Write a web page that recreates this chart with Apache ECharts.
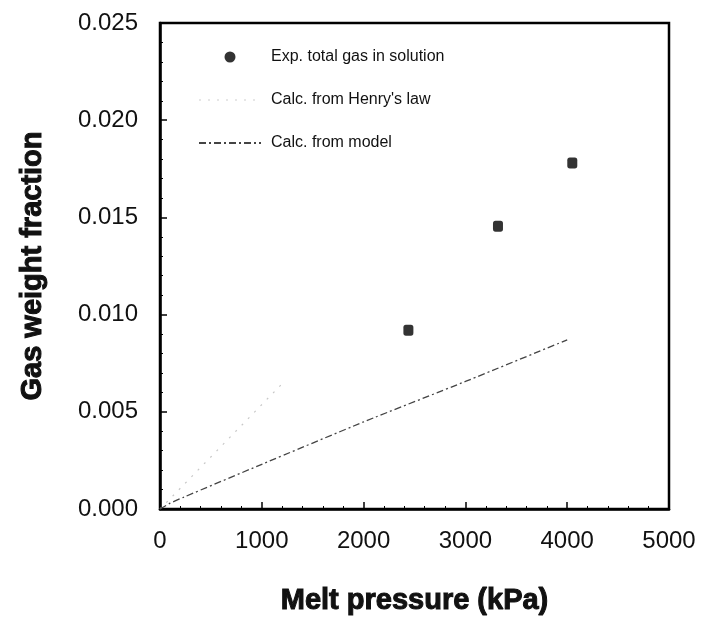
<!DOCTYPE html>
<html>
<head>
<meta charset="utf-8">
<script src="https://cdn.jsdelivr.net/npm/echarts@6/dist/echarts.min.js"></script>
<style>
  html, body { margin: 0; padding: 0; background: #fff; }
  #chart { width: 704px; height: 628px; }
</style>
</head>
<body>
<div id="chart"></div>
<script>
// measured points (kPa, weight fraction)
const expPressure = [2440, 3320, 4050];
const expGas = [0.0092, 0.01455, 0.0178];

// Henry's law line (only visible near the origin)
const henryPressure = [0, 150, 1210];
const henryGas = [0, 0.0008, 0.0065];

// model curve
const modelPressure = [0, 100, 230, 1000, 2000, 3000, 4000];
const modelGas = [0, 0.0003, 0.0006, 0.0023, 0.00448, 0.00656, 0.0087];

const xTicks = [0, 1000, 2000, 3000, 4000, 5000];
const yTicks = [0, 0.005, 0.01, 0.015, 0.02, 0.025];

const pairs = (xs, ys) => xs.map((x, i) => [x, ys[i]]);

const chart = echarts.init(document.getElementById('chart'));

const nameStyle = {
    fontFamily: 'Liberation Sans', fontSize: 29, fontWeight: 'bold', color: '#111',
    textBorderColor: '#111', textBorderWidth: 1
};

const option = {
    animation: false,
    grid: {
        left: 160, right: 35, top: 23, bottom: 119,
        show: true, borderColor: '#000', borderWidth: 2.5
    },
    legend: {
        orient: 'vertical',
        left: 193, top: 44,
        itemWidth: 62, itemHeight: 11,
        itemGap: 27,
        symbolKeepAspect: true,
        textStyle: {
            fontFamily: 'Liberation Sans', fontSize: 16, color: '#111',
            padding: [0, 0, 0, 5]
        },
        data: [
            { name: 'Exp. total gas in solution', icon: 'circle', itemStyle: { color: '#000' } },
            { name: "Calc. from Henry's law", itemStyle: { opacity: 0 }, lineStyle: { color: '#e6e6e6' } },
            { name: 'Calc. from model', itemStyle: { opacity: 0 } }
        ]
    },
    xAxis: {
        type: 'value',
        min: 0, max: 5000, interval: 1000,
        name: 'Melt pressure (kPa)',
        nameLocation: 'middle',
        nameGap: 77,
        nameTextStyle: nameStyle,
        axisLine: { lineStyle: { color: '#000', width: 2.5 } },
        axisTick: { inside: true, length: 7, lineStyle: { color: '#000', width: 1.5 } },
        minorTick: { show: true, splitNumber: 5, length: 3, lineStyle: { color: '#000' } },
        splitLine: { show: false },
        axisLabel: {
            margin: 20,
            fontFamily: 'Liberation Sans', fontSize: 24, color: '#111',
            formatter: v => xTicks.includes(v) ? String(v) : ''
        }
    },
    yAxis: {
        type: 'value',
        min: 0, max: 0.025, interval: 0.005,
        name: 'Gas weight fraction',
        nameLocation: 'middle',
        nameGap: 113,
        nameTextStyle: nameStyle,
        axisLine: { lineStyle: { color: '#000', width: 2.5 } },
        axisTick: { inside: true, length: 7, lineStyle: { color: '#000', width: 1.5 } },
        minorTick: { show: true, splitNumber: 5, length: 3, lineStyle: { color: '#000' } },
        splitLine: { show: false },
        axisLabel: {
            margin: 22,
            fontFamily: 'Liberation Sans', fontSize: 24, color: '#111',
            formatter: v => v.toFixed(3)
        }
    },
    series: [
        {
            name: 'Exp. total gas in solution',
            type: 'scatter',
            symbol: 'roundRect',
            symbolSize: [10, 11],
            itemStyle: { color: '#000' },
            data: pairs(expPressure, expGas)
        },
        {
            name: "Calc. from Henry's law",
            type: 'line',
            symbol: 'none',
            lineStyle: { color: '#c8c8c8', width: 1.2, type: [2, 7] },
            itemStyle: { color: '#c8c8c8' },
            data: pairs(henryPressure, henryGas)
        },
        {
            name: 'Calc. from model',
            type: 'line',
            symbol: 'none',
            smooth: 0.2,
            lineStyle: { color: '#444', width: 1.3, type: [7, 3, 2, 3] },
            itemStyle: { color: '#444' },
            data: pairs(modelPressure, modelGas)
        }
    ]
};

option && chart.setOption(option);
</script>
</body>
</html>
